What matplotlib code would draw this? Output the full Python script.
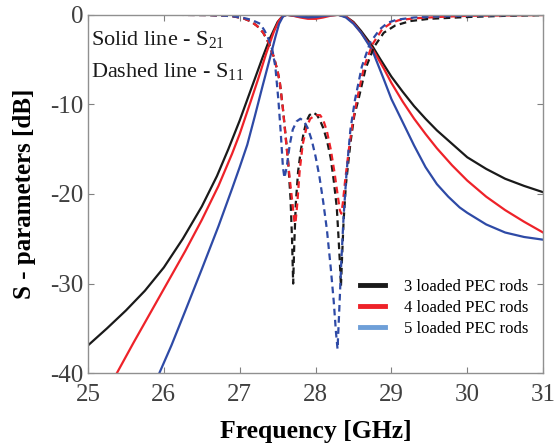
import matplotlib.pyplot as plt
from matplotlib.lines import Line2D

plt.rcParams['font.family'] = 'Liberation Serif'
plt.rcParams['axes.unicode_minus'] = False
plt.rcParams['mathtext.fontset'] = 'custom'
plt.rcParams['mathtext.rm'] = 'Liberation Serif'

# S21 curves (solid)
f21_3 = [25.0, 25.25, 25.5, 25.75, 26.0, 26.25, 26.5, 26.7, 26.85, 27.0, 27.15, 27.3, 27.4,
         27.5, 27.57, 27.62, 27.7, 27.8, 27.9, 28.0, 28.1, 28.2, 28.3, 28.4, 28.5, 28.6, 28.75,
         28.85, 29.0, 29.15, 29.3, 29.45, 29.6, 29.8, 30.0, 30.25, 30.5, 30.75, 31.0]
s21_3 = [-36.9, -35.0, -33.0, -30.8, -28.2, -25.0, -21.4, -18.0, -15.0, -11.8, -8.3, -4.8, -2.6,
         -0.8, -0.1, 0.0, -0.1, -0.2, -0.3, -0.25, -0.15, -0.05, 0.0, -0.2, -0.8, -1.8, -3.5,
         -4.9, -6.9, -8.6, -10.2, -11.6, -12.9, -14.4, -15.9, -17.2, -18.3, -19.1, -19.8]

f21_4 = [25.38, 25.6, 25.84, 26.0, 26.28, 26.5, 26.72, 26.9, 27.0, 27.14, 27.25, 27.35, 27.45,
         27.52, 27.58, 27.63, 27.7, 27.8, 27.9, 28.0, 28.1, 28.2, 28.3, 28.4, 28.5, 28.6, 28.75,
         28.9, 29.0, 29.15, 29.3, 29.45, 29.6, 29.8, 30.0, 30.25, 30.5, 30.75, 31.0]
s21_4 = [-40.0, -36.6, -33.0, -30.6, -26.4, -22.9, -19.1, -15.5, -13.3, -9.8, -7.0, -4.3, -1.9,
         -0.6, -0.1, 0.0, -0.1, -0.3, -0.45, -0.45, -0.3, -0.1, 0.0, -0.2, -0.9, -2.0, -3.8,
         -6.0, -7.6, -9.7, -11.6, -13.3, -14.9, -16.8, -18.5, -20.3, -21.8, -23.1, -24.3]

f21_5 = [25.94, 26.1, 26.28, 26.5, 26.72, 26.9, 27.0, 27.1, 27.2, 27.3, 27.4, 27.47, 27.52,
         27.57, 27.62, 27.7, 27.8, 27.9, 28.0, 28.1, 28.2, 28.3, 28.4, 28.5, 28.6, 28.75, 28.9,
         29.0, 29.15, 29.3, 29.45, 29.6, 29.75, 29.9, 30.0, 30.25, 30.5, 30.75, 31.0]
s21_5 = [-40.0, -36.9, -33.1, -28.4, -23.6, -19.4, -17.0, -14.5, -11.3, -8.0, -4.8, -2.5, -1.0,
         -0.2, 0.0, -0.05, -0.2, -0.3, -0.25, -0.15, -0.05, 0.0, -0.3, -1.0, -2.0, -4.0, -7.2,
         -9.4, -12.0, -14.6, -17.0, -18.9, -20.3, -21.5, -22.1, -23.4, -24.3, -24.8, -25.1]

# S11 curves (dashed)
f11_3 = [25.0, 26.0, 26.6, 26.9, 27.05, 27.15, 27.23, 27.31, 27.38, 27.45, 27.5, 27.53, 27.57,
         27.6, 27.64, 27.67, 27.69, 27.705, 27.72, 27.74, 27.77, 27.8, 27.84, 27.88, 27.92,
         27.97, 28.02, 28.06, 28.1, 28.15, 28.2, 28.24, 28.28, 28.3, 28.32, 28.335, 28.35,
         28.37, 28.4, 28.46, 28.51, 28.57, 28.66, 28.77, 28.9, 29.05, 29.25, 29.5, 30.0,
         30.5, 31.0]
s11_3 = [0.0, 0.0, -0.03, -0.15, -0.4, -0.75, -1.25, -2.0, -3.1, -4.7, -6.3, -7.6, -10.5,
         -13.0, -16.5, -20.5, -25.0, -30.0, -25.5, -21.0, -17.5, -15.5, -13.3, -11.9, -11.2,
         -10.9, -11.2, -11.8, -12.6, -14.0, -16.0, -18.5, -21.5, -24.4, -27.5, -30.3, -27.0,
         -23.0, -19.0, -14.3, -11.3, -9.3, -6.0, -3.6, -2.0, -1.2, -0.7, -0.45, -0.25,
         -0.12, -0.05]

f11_4 = [25.0, 26.0, 26.6, 26.9, 27.05, 27.15, 27.23, 27.31, 27.38, 27.45, 27.5, 27.53, 27.57,
         27.6, 27.63, 27.66, 27.69, 27.72, 27.735, 27.76, 27.79, 27.83, 27.88, 27.93, 28.0,
         28.06, 28.1, 28.15, 28.2, 28.25, 28.29, 28.32, 28.34, 28.36, 28.39, 28.44, 28.49,
         28.55, 28.64, 28.75, 28.88, 29.0, 29.1, 29.3, 29.6, 30.0, 31.0]
s11_4 = [0.0, 0.0, -0.03, -0.15, -0.4, -0.75, -1.25, -2.0, -3.1, -4.7, -6.3, -7.6, -10.5,
         -13.2, -15.8, -18.3, -20.6, -23.0, -23.3, -21.0, -17.5, -14.5, -12.6, -11.6, -11.2,
         -11.2, -11.7, -13.0, -15.0, -17.6, -20.0, -21.8, -22.2, -21.0, -18.5, -15.0, -12.0,
         -9.3, -5.8, -3.3, -1.6, -0.9, -0.6, -0.4, -0.25, -0.12, -0.03]

f11_5 = [25.0, 26.0, 26.6, 26.9, 27.05, 27.15, 27.27, 27.33, 27.38, 27.43, 27.47, 27.51, 27.54,
         27.57, 27.59, 27.62, 27.66, 27.7, 27.75, 27.8, 27.85, 27.9, 27.95, 28.0, 28.05, 28.1,
         28.15, 28.2, 28.24, 28.27, 28.29, 28.31, 28.34, 28.37, 28.41, 28.46, 28.52, 28.61,
         28.72, 28.85, 28.95, 29.07, 29.3, 29.6, 30.0, 30.5, 31.0]
s11_5 = [0.0, 0.0, -0.03, -0.15, -0.35, -0.55, -1.0, -1.8, -2.7, -3.9, -5.8, -9.5, -13.0,
         -17.0, -18.2, -17.0, -14.5, -12.8, -11.9, -11.6, -11.9, -12.7, -14.0, -15.8, -18.0, -20.8,
         -24.0, -28.2, -32.0, -35.5, -37.3, -33.5, -27.5, -22.5, -17.5, -12.8, -9.5, -5.8,
         -3.1, -1.6, -0.9, -0.55, -0.3, -0.18, -0.1, -0.04, 0.0]

labels = ['3 loaded PEC rods', '4 loaded PEC rods', '5 loaded PEC rods']
c_black, c_red, c_blue, c_legblue = '#1a1a1a', '#ee2229', '#2e4aa6', '#6e9fd8'

fig = plt.figure(figsize=(5.57, 4.48), dpi=100)
ax = fig.add_axes([0.158, 0.167, 0.817, 0.800])

lw = 1.6
dash = (0, (3, 2))
ax.plot(f21_3, s21_3, color=c_black, lw=lw)
ax.plot(f21_4, s21_4, color=c_red, lw=lw)
ax.plot(f21_5, s21_5, color=c_blue, lw=lw)
ax.plot(f11_3, s11_3, color=c_black, lw=lw, ls=dash)
ax.plot(f11_4, s11_4, color=c_red, lw=lw, ls=dash)
ax.plot(f11_5, s11_5, color=c_blue, lw=lw, ls=dash)

ax.set_xlim(25, 31)
ax.set_ylim(-40, 0)
ax.set_xticks([25, 26, 27, 28, 29, 30, 31])
ax.set_yticks([-40, -30, -20, -10, 0])
ax.tick_params(direction='in', top=True, right=True, labelsize=18,
               colors='#808080', labelcolor='#404040', length=4)
ax.tick_params(axis='x', pad=8)
for s in ax.spines.values():
    s.set_color('#909090')
    s.set_linewidth(1.0)

ax.set_xlabel('Frequency [GHz]', fontsize=18.5, fontweight='bold', labelpad=10)
ax.set_ylabel('S - parameters [dB]', fontsize=18, fontweight='bold', labelpad=10)

ax.text(0.006, 0.93, 'Solid line - S$_{21}$', transform=ax.transAxes, fontsize=16,
        va='center', ha='left', color='#1a1a1a')
ax.text(0.006, 0.84, 'Dashed line - S$_{11}$', transform=ax.transAxes, fontsize=16,
        va='center', ha='left', color='#1a1a1a')

handles = [Line2D([], [], color=c_black, lw=3.5),
           Line2D([], [], color=c_red, lw=3.5),
           Line2D([], [], color=c_legblue, lw=3.5)]
ax.legend(handles, labels, loc='lower right', bbox_to_anchor=(1.0, 0.06), frameon=False,
          fontsize=12, handlelength=1.5, handletextpad=1.1, labelspacing=0.3)

fig.savefig('out.png', dpi=100)
